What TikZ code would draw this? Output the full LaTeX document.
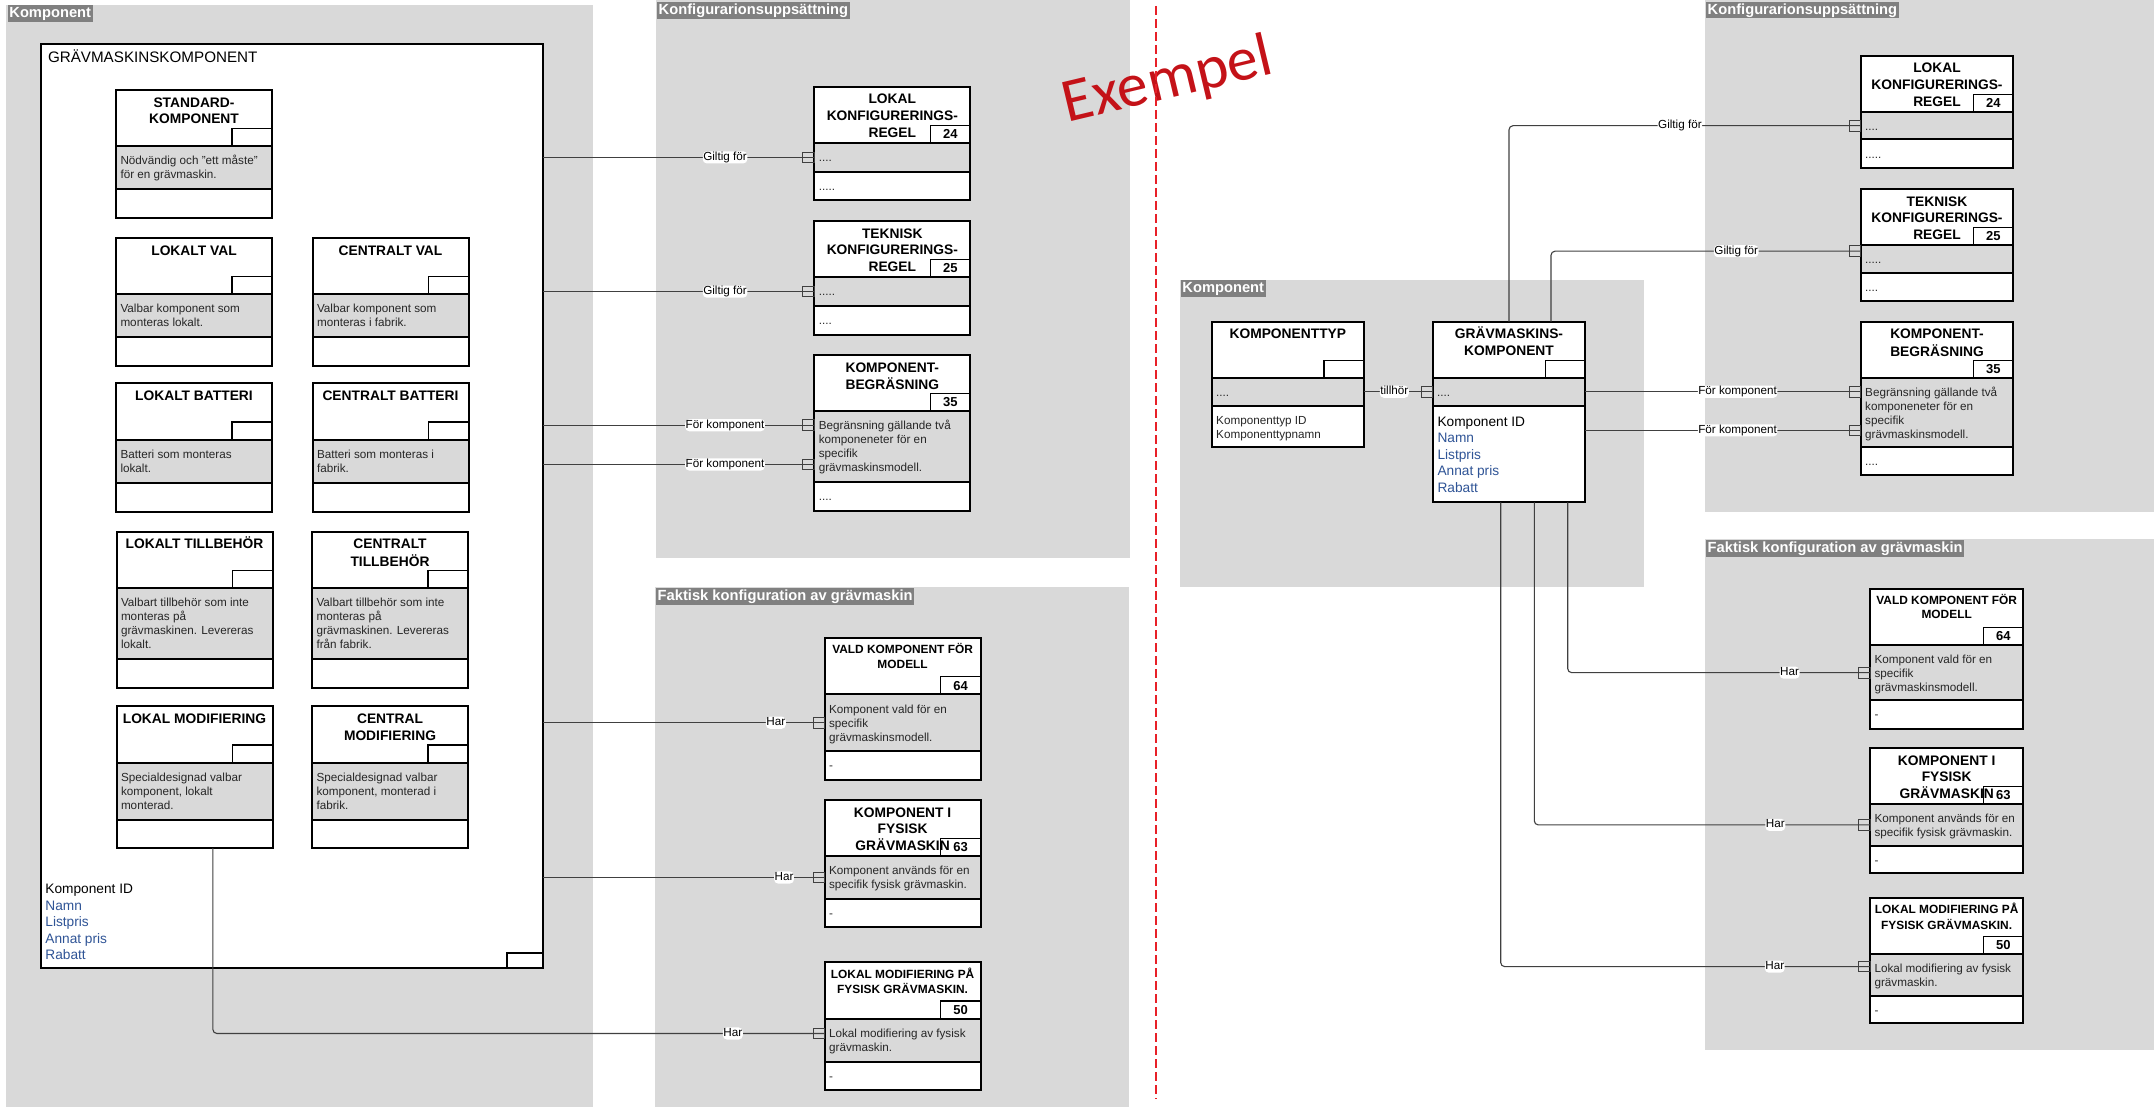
\documentclass[tikz,border=0pt]{standalone}
\usepackage{fontspec}
\setmainfont{Liberation Sans}
\newfontfamily\exfont{Carlito}
\usetikzlibrary{positioning,calc,decorations.markings}

\definecolor{panelgray}{RGB}{217,217,217}
\definecolor{taggray}{RGB}{128,128,128}
\definecolor{linegray}{RGB}{64,64,64}
\definecolor{attrblue}{RGB}{47,84,150}
\definecolor{exred}{RGB}{196,18,24}
\definecolor{dashred}{RGB}{232,32,40}

\tikzset{
  hdbox/.style={draw, line width=2pt, fill=white, anchor=north west, minimum height=56.2pt, inner sep=0pt, outer sep=0pt},
  mdbox/.style={draw, line width=2pt, fill=panelgray, inner sep=0pt, outer sep=0pt},
  ftbox/.style={draw, line width=2pt, fill=white, inner sep=0pt, outer sep=0pt},
  bigbox/.style={draw, line width=1.3pt, fill=white, anchor=north west, inner sep=0pt, outer sep=0pt},
  numbox/.style={draw, line width=1.1pt, anchor=south east, minimum width=40pt, minimum height=17.5pt,
    inner sep=0pt, outer sep=0pt, font=\fontsize{13}{15}\selectfont\bfseries},
  ttl/.style={align=center, inner sep=0pt, font=\fontsize{13.8}{16.7}\selectfont\bfseries},
  ttls/.style={align=center, inner sep=0pt, font=\fontsize{11.9}{14.3}\selectfont\bfseries},
  txt/.style={align=left, inner sep=0pt, text=black!85, font=\fontsize{11.7}{14}\selectfont},
  attr/.style={align=left, inner sep=0pt, font=\fontsize{13.7}{16.6}\selectfont},
  lbl/.style={fill=white, inner xsep=0.5pt, inner ysep=0.5pt, text height=8.6pt, text depth=2.5pt,
    font=\fontsize{11.7}{14}\selectfont},
  paneltag/.style={anchor=north west, fill=taggray, text=white, inner xsep=1.5pt, inner ysep=0.8pt,
    text height=11.5pt, text depth=3.5pt, font=\fontsize{14.7}{17}\selectfont\bfseries},
  conn/.style={draw=linegray, line width=1.1pt, rounded corners=4pt, postaction={decorate},
    decoration={markings, mark=at position 1 with {\draw[linegray, line width=0.9pt, sharp corners] (-11.4pt,-5.3pt) rectangle (0pt,5.3pt);}}},
  dashline/.style={draw=dashred, line width=2.4pt, dash pattern=on 9pt off 4pt},
  extext/.style={text=exred, inner sep=0pt, font=\exfont\fontsize{62}{62}\selectfont}
}

% entity box: name, north west corner, width, middle height, foot height, title style, title, middle text, foot text
\newcommand{\entity}[9]{%
  \node[hdbox, minimum width=#3] (#1-h) at #2 {};
  \node[mdbox, minimum width=#3, minimum height=#4, below=0pt of #1-h] (#1-m) {};
  \node[ftbox, minimum width=#3, minimum height=#5, below=0pt of #1-m] (#1-f) {};
  \node[#6, below=5.3pt of #1-h.north] (#1-t) {\strut #7};
  \node[txt, below right=8.6pt and 4.3pt of #1-m.north west] (#1-mt) {\strut #8};
  \node[txt, below right=8.6pt and 4.3pt of #1-f.north west] (#1-ft) {\strut #9};
}

\begin{document}
\begin{tikzpicture}[x=1pt, y=-1pt]
  \useasboundingbox (0,0) rectangle (2154,1107);

  % panels
  \fill[panelgray] (6,5) rectangle (593,1107);
  \fill[panelgray] (656,0) rectangle (1129.6,558);
  \fill[panelgray] (655.4,587.2) rectangle (1128.6,1107);
  \fill[panelgray] (1180,280) rectangle (1644,586.7);
  \fill[panelgray] (1705,0) rectangle (2154,511.7);
  \fill[panelgray] (1705,539) rectangle (2154,1050);

  \node[paneltag] (tag-komp) at (7.7,5) {Komponent};
  \node[paneltag] (tag-konf) at (657,1.8) {Konfigurarionsuppsättning};
  \node[paneltag] (tag-fakt) at (656,588) {Faktisk konfiguration av grävmaskin};
  \node[paneltag] (tag-komp2) at (1180.7,280) {Komponent};
  \node[paneltag] (tag-konf2) at (1706,1.7) {Konfigurarionsuppsättning};
  \node[paneltag] (tag-fakt2) at (1706,540) {Faktisk konfiguration av grävmaskin};

  % left: the component and its kinds
  \node[bigbox, minimum width=502pt, minimum height=924pt] (gk) at (41,44) {};
  \node[anchor=base west, inner sep=0pt, font=\fontsize{15.2}{18}\selectfont] (gk-t) at (47.8,62.1) {GRÄVMASKINSKOMPONENT};
  \node[numbox, minimum width=36pt, minimum height=15pt] (gk-n) at (gk.south east) {};
  \node[attr, anchor=north west] (gk-attr) at (45.2,881.7) {\strut Komponent ID\\\textcolor{attrblue}{Namn}\\\textcolor{attrblue}{Listpris}\\\textcolor{attrblue}{Annat pris}\\\textcolor{attrblue}{Rabatt}};

  \entity{std}{(116,90)}{156pt}{42.6pt}{29pt}{ttl}{STANDARD-\\KOMPONENT}{Nödvändig och "ett måste"\\för en grävmaskin.}{}
  \entity{lv}{(116,238)}{156pt}{43pt}{28.5pt}{ttl}{LOKALT VAL}{Valbar komponent som\\monteras lokalt.}{}
  \entity{cv}{(312.5,238)}{156pt}{43pt}{28.5pt}{ttl}{CENTRALT VAL}{Valbar komponent som\\monteras i fabrik.}{}
  \entity{lb}{(116,383.3)}{156pt}{43pt}{29pt}{ttl}{LOKALT BATTERI}{Batteri som monteras\\lokalt.}{}
  \entity{cb}{(312.5,383.3)}{156pt}{43pt}{29pt}{ttl}{CENTRALT BATTERI}{Batteri som monteras i\\fabrik.}{}
  \entity{lt}{(116.5,531.7)}{156pt}{70.6pt}{29pt}{ttl}{LOKALT TILLBEHÖR}{Valbart tillbehör som inte\\monteras på\\grävmaskinen. Levereras\\lokalt.}{}
  \entity{ct}{(312,531.7)}{156pt}{70.6pt}{29pt}{ttl}{CENTRALT\\TILLBEHÖR}{Valbart tillbehör som inte\\monteras på\\grävmaskinen. Levereras\\från fabrik.}{}
  \entity{lm}{(116.5,706.3)}{156pt}{57pt}{28.6pt}{ttl}{LOKAL MODIFIERING}{Specialdesignad valbar\\komponent, lokalt\\monterad.}{}
  \entity{cm}{(312,706.3)}{156pt}{57pt}{28.6pt}{ttl}{CENTRAL\\MODIFIERING}{Specialdesignad valbar\\komponent, monterad i\\fabrik.}{}

  \node[numbox] (std-n) at (std-h.south east) {};
  \node[numbox] (lv-n) at (lv-h.south east) {};
  \node[numbox] (cv-n) at (cv-h.south east) {};
  \node[numbox] (lb-n) at (lb-h.south east) {};
  \node[numbox] (cb-n) at (cb-h.south east) {};
  \node[numbox] (lt-n) at (lt-h.south east) {};
  \node[numbox] (ct-n) at (ct-h.south east) {};
  \node[numbox] (lm-n) at (lm-h.south east) {};
  \node[numbox] (cm-n) at (cm-h.south east) {};

  % middle: configuration
  \entity{lkr}{(814.3,86.8)}{156pt}{28.7pt}{28.6pt}{ttl}{LOKAL\\KONFIGURERINGS-\\REGEL}{....}{.....}
  \entity{tkr}{(814.3,221)}{156pt}{28.8pt}{28.6pt}{ttl}{TEKNISK\\KONFIGURERINGS-\\REGEL}{.....}{....}
  \entity{kb}{(814.3,355)}{156pt}{70.8pt}{28.9pt}{ttl}{KOMPONENT-\\BEGRÄSNING}{Begränsning gällande två\\komponeneter för en\\specifik\\grävmaskinsmodell.}{....}
  \entity{vald}{(824.6,638.2)}{156pt}{56.6pt}{28.6pt}{ttls}{VALD KOMPONENT FÖR\\MODELL}{Komponent vald för en\\specifik\\grävmaskinsmodell.}{-}
  \entity{kfg}{(824.6,800)}{156pt}{42.6pt}{28.2pt}{ttl}{KOMPONENT I\\FYSISK\\GRÄVMASKIN}{Komponent används för en\\specifik fysisk grävmaskin.}{-}
  \entity{lmp}{(824.6,962.3)}{156pt}{43pt}{28pt}{ttls}{LOKAL MODIFIERING PÅ\\FYSISK GRÄVMASKIN.}{Lokal modifiering av fysisk\\grävmaskin.}{-}

  \node[numbox] (lkr-n) at (lkr-h.south east) {24};
  \node[numbox] (tkr-n) at (tkr-h.south east) {25};
  \node[numbox] (kb-n) at (kb-h.south east) {35};
  \node[numbox] (vald-n) at (vald-h.south east) {64};
  \node[numbox] (kfg-n) at (kfg-h.south east) {63};
  \node[numbox] (lmp-n) at (lmp-h.south east) {50};

  \coordinate (kb-in1) at ($(kb-m.north west)+(0,14)$);
  \coordinate (kb-in2) at ($(kb-m.north west)+(0,53.3)$);
  \coordinate (lmp-in) at ($(lmp-m.north west)+(0,15)$);

  \draw[conn] (gk.east |- lkr-m.west) -- node[lbl, pos=.671] {Giltig för} (lkr-m.west);
  \draw[conn] (gk.east |- tkr-m.west) -- node[lbl, pos=.671] {Giltig för} (tkr-m.west);
  \draw[conn] (gk.east |- kb-in1) -- node[lbl, pos=.671] {För komponent} (kb-in1);
  \draw[conn] (gk.east |- kb-in2) -- node[lbl, pos=.671] {För komponent} (kb-in2);
  \draw[conn] (gk.east |- vald-m.west) -- node[lbl, pos=.827] {Har} (vald-m.west);
  \draw[conn] (gk.east |- kfg-m.west) -- node[lbl, pos=.856] {Har} (kfg-m.west);
  \draw[conn] ([xshift=18.4pt]lm-f.south) |- node[lbl, pos=.925] {Har} (lmp-in);

  % right: the example
  \entity{kt}{(1211.7,321.7)}{152.3pt}{27.7pt}{41.7pt}{ttl}{KOMPONENTTYP}{....}{Komponenttyp ID\\Komponenttypnamn}
  \entity{gkr}{(1432.7,321.7)}{152.6pt}{27.7pt}{96.7pt}{ttl}{GRÄVMASKINS-\\KOMPONENT}{....}{}
  \node[attr, below right=8.7pt and 4.6pt of gkr-f.north west] (gkr-attr) {\strut Komponent ID\\\textcolor{attrblue}{Namn}\\\textcolor{attrblue}{Listpris}\\\textcolor{attrblue}{Annat pris}\\\textcolor{attrblue}{Rabatt}};
  \node[numbox] (kt-n) at (kt-h.south east) {};
  \node[numbox] (gkr-n) at (gkr-h.south east) {};

  \entity{lkr2}{(1860.7,55.7)}{152.6pt}{27.6pt}{28.4pt}{ttl}{LOKAL\\KONFIGURERINGS-\\REGEL}{....}{.....}
  \entity{tkr2}{(1860.7,189)}{152.6pt}{27.7pt}{27.6pt}{ttl}{TEKNISK\\KONFIGURERINGS-\\REGEL}{.....}{....}
  \entity{kb2}{(1860.7,321.7)}{152.6pt}{69.4pt}{27.3pt}{ttl}{KOMPONENT-\\BEGRÄSNING}{Begränsning gällande två\\komponeneter för en\\specifik\\grävmaskinsmodell.}{....}
  \entity{vald2}{(1870,588.9)}{153.3pt}{55.1pt}{28.5pt}{ttls}{VALD KOMPONENT FÖR\\MODELL}{Komponent vald för en\\specifik\\grävmaskinsmodell.}{-}
  \entity{kfg2}{(1870,748)}{153.3pt}{41.4pt}{27.6pt}{ttl}{KOMPONENT I\\FYSISK\\GRÄVMASKIN}{Komponent används för en\\specifik fysisk grävmaskin.}{-}
  \entity{lmp2}{(1870,897.7)}{153.3pt}{41.6pt}{27.5pt}{ttls}{LOKAL MODIFIERING PÅ\\FYSISK GRÄVMASKIN.}{Lokal modifiering av fysisk\\grävmaskin.}{-}

  \node[numbox] (lkr2-n) at (lkr2-h.south east) {24};
  \node[numbox] (tkr2-n) at (tkr2-h.south east) {25};
  \node[numbox] (kb2-n) at (kb2-h.south east) {35};
  \node[numbox] (vald2-n) at (vald2-h.south east) {64};
  \node[numbox] (kfg2-n) at (kfg2-h.south east) {63};
  \node[numbox] (lmp2-n) at (lmp2-h.south east) {50};

  \coordinate (tkr2-in) at ($(tkr2-m.north west)+(0,6)$);
  \coordinate (kb2-in2) at ($(kb2-m.north west)+(0,52.5)$);
  \coordinate (lmp2-in) at ($(lmp2-m.north west)+(0,12.7)$);

  \draw[conn] (kt-m.east) -- node[lbl, pos=.441] {tillhör} (gkr-m.west);
  \draw[conn] (gkr-h.north) |- node[lbl, pos=.743] {Giltig för} (lkr2-m.west);
  \draw[conn] ([xshift=42pt]gkr-h.north) |- node[lbl, pos=.799] {Giltig för} (tkr2-in);
  \draw[conn] (gkr-m.east) -- node[lbl, pos=.553] {För komponent} (gkr-m.east -| kb2-m.west);
  \draw[conn] (gkr-f.east |- kb2-in2) -- node[lbl, pos=.553] {För komponent} (kb2-in2);
  \draw[conn] ([xshift=58.7pt]gkr-f.south) |- node[lbl, pos=.867] {Har} (vald2-m.west);
  \draw[conn] ([xshift=25.3pt]gkr-f.south) |- node[lbl, pos=.859] {Har} (kfg2-m.west);
  \draw[conn] ([xshift=-8.3pt]gkr-f.south) |- node[lbl, pos=.871] {Har} (lmp2-in);

  % divider and stamp
  \node[extext, rotate=13.4] (ex) at (1168,82) {Exempel};
  \draw[dashline] (1155.7,6) -- (1155.7,1099);
\end{tikzpicture}
\end{document}
